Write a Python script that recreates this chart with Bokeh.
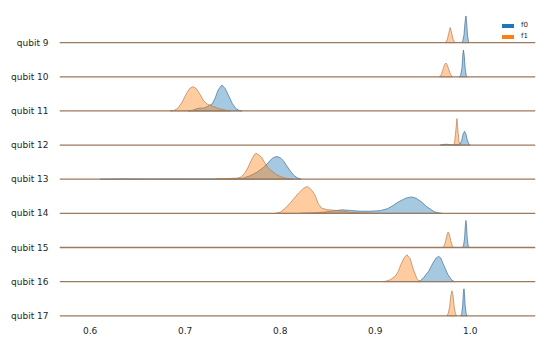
from bokeh.plotting import figure
from bokeh.models import (Range1d, FixedTicker, Span, Legend, LegendItem,
                          NumeralTickFormatter)
from bokeh.embed import file_html
from bokeh.resources import INLINE

# ---------------- data ----------------
categories = ["qubit 9", "qubit 10", "qubit 11", "qubit 12", "qubit 13",
              "qubit 14", "qubit 15", "qubit 16", "qubit 17"]
series_names = ["f0", "f1"]
x_ticks = [0.6, 0.7, 0.8, 0.9, 1.0]

# relative density (row maximum ~ 1)
q9_f0_x = [0.9905, 0.9921, 0.9935, 0.9945, 0.9955, 0.9963, 0.9972, 0.9982, 0.9989]
q9_f0_d = [0, 0.05, 0.30, 0.75, 0.99, 0.70, 0.25, 0.03, 0]
q9_f1_x = [0.9737, 0.9758, 0.9774, 0.9789, 0.9805, 0.9821, 0.9842]
q9_f1_d = [0, 0.10, 0.35, 0.56, 0.35, 0.10, 0]

q10_f0_x = [0.9884, 0.9900, 0.9914, 0.9922, 0.9929, 0.9938, 0.9947, 0.9958, 0.9968]
q10_f0_d = [0, 0.06, 0.35, 0.80, 0.99, 0.75, 0.30, 0.05, 0]
q10_f1_x = [0.9674, 0.9695, 0.9716, 0.9732, 0.9744, 0.9758, 0.9774, 0.9795, 0.9816]
q10_f1_d = [0, 0.08, 0.30, 0.46, 0.51, 0.44, 0.27, 0.07, 0]

q11_f0_x = [0.7032, 0.7084, 0.7126, 0.7158, 0.7189, 0.7221, 0.7258, 0.7284, 0.7316,
            0.7347, 0.7386, 0.7421, 0.7458, 0.7495, 0.7532, 0.7568, 0.7600]
q11_f0_d = [0, 0.03, 0.09, 0.11, 0.10, 0.14, 0.21, 0.26, 0.48,
            0.78, 0.96, 0.83, 0.56, 0.28, 0.09, 0.02, 0]
q11_f1_x = [0.6842, 0.6884, 0.6926, 0.6968, 0.7011, 0.7047, 0.7081, 0.7116, 0.7153,
            0.7189, 0.7221, 0.7253, 0.7295, 0.7347, 0.7411, 0.7474]
q11_f1_d = [0, 0.02, 0.11, 0.33, 0.63, 0.83, 0.90, 0.83, 0.63,
            0.41, 0.28, 0.22, 0.17, 0.09, 0.04, 0]

q12_f0_x = [0.9684, 0.9716, 0.9747, 0.9779, 0.9811, 0.9863, 0.9895, 0.9911, 0.9926,
            0.9940, 0.9954, 0.9968, 0.9984, 1.0000]
q12_f0_d = [0, 0.02, 0.03, 0.02, 0.01, 0.01, 0.04, 0.18, 0.42,
            0.51, 0.42, 0.20, 0.05, 0]
q12_f1_x = [0.9821, 0.9835, 0.9846, 0.9860, 0.9873, 0.9884, 0.9895]
q12_f1_d = [0, 0.08, 0.45, 0.98, 0.45, 0.08, 0]

q13_f0_x = [0.6105, 0.6211, 0.6368, 0.6474, 0.6632, 0.6789, 0.6947, 0.7158, 0.7368,
            0.7526, 0.7611, 0.7684, 0.7755, 0.7824, 0.7863, 0.7895, 0.7926, 0.7965,
            0.8000, 0.8035, 0.8068, 0.8105, 0.8142, 0.8179, 0.8221]
q13_f0_d = [0, 0.004, 0.012, 0.006, 0.003, 0.006, 0.006, 0.004, 0.01,
            0.015, 0.04, 0.13, 0.26, 0.44, 0.57, 0.70, 0.80, 0.84,
            0.80, 0.68, 0.50, 0.31, 0.15, 0.05, 0]
q13_f1_x = [0.7316, 0.7389, 0.7474, 0.7547, 0.7589, 0.7632, 0.7663, 0.7695, 0.7726,
            0.7747, 0.7774, 0.7807, 0.7832, 0.7860, 0.7884, 0.7913, 0.7958, 0.8000,
            0.8042, 0.8095, 0.8137]
q13_f1_d = [0, 0.02, 0.03, 0.04, 0.08, 0.25, 0.45, 0.70, 0.90,
            0.96, 0.90, 0.80, 0.64, 0.49, 0.38, 0.30, 0.18, 0.10,
            0.05, 0.01, 0]

q14_f0_x = [0.8211, 0.8368, 0.8474, 0.8579, 0.8653, 0.8737, 0.8842, 0.8947, 0.9053,
            0.9126, 0.9189, 0.9242, 0.9281, 0.9326, 0.9386, 0.9432, 0.9492, 0.9537,
            0.9579, 0.9621, 0.9663, 0.9705]
q14_f0_d = [0, 0.02, 0.05, 0.10, 0.13, 0.11, 0.08, 0.08, 0.10,
            0.17, 0.29, 0.42, 0.49, 0.57, 0.61, 0.56, 0.41, 0.26,
            0.16, 0.06, 0.02, 0]
q14_f1_x = [0.7947, 0.8000, 0.8053, 0.8105, 0.8140, 0.8193, 0.8245, 0.8287, 0.8333,
            0.8368, 0.8403, 0.8439, 0.8492, 0.8561, 0.8632, 0.8737, 0.8874, 0.8968]
q14_f1_d = [0, 0.04, 0.19, 0.38, 0.53, 0.75, 0.93, 1.00, 0.86,
            0.66, 0.34, 0.19, 0.14, 0.12, 0.09, 0.04, 0.01, 0]

q15_f0_x = [0.9916, 0.9929, 0.9941, 0.9948, 0.9955, 0.9961, 0.9968, 0.9979, 0.9989]
q15_f0_d = [0, 0.06, 0.35, 0.80, 1.00, 0.80, 0.35, 0.06, 0]
q15_f1_x = [0.9711, 0.9726, 0.9742, 0.9758, 0.9768, 0.9779, 0.9795, 0.9811, 0.9826]
q15_f1_d = [0, 0.06, 0.25, 0.50, 0.57, 0.50, 0.25, 0.06, 0]

q16_f0_x = [0.9442, 0.9474, 0.9508, 0.9561, 0.9614, 0.9642, 0.9667, 0.9689, 0.9719,
            0.9765, 0.9807, 0.9837]
q16_f0_d = [0, 0.03, 0.14, 0.38, 0.73, 0.88, 0.94, 0.88, 0.63, 0.26, 0.05, 0]
q16_f1_x = [0.9074, 0.9116, 0.9158, 0.9211, 0.9242, 0.9263, 0.9298, 0.9333, 0.9368,
            0.9403, 0.9439, 0.9463, 0.9484]
q16_f1_d = [0, 0.02, 0.07, 0.20, 0.38, 0.57, 0.85, 1.00, 0.85, 0.44, 0.11, 0.02, 0]

q17_f0_x = [0.9898, 0.9911, 0.9921, 0.9927, 0.9934, 0.9940, 0.9946, 0.9957, 0.9968]
q17_f0_d = [0, 0.08, 0.40, 0.82, 1.00, 0.82, 0.40, 0.08, 0]
q17_f1_x = [0.9753, 0.9768, 0.9784, 0.9797, 0.9807, 0.9818, 0.9831, 0.9844, 0.9858]
q17_f1_d = [0, 0.08, 0.35, 0.78, 0.93, 0.78, 0.35, 0.08, 0]

f0_curves = [(q9_f0_x, q9_f0_d), (q10_f0_x, q10_f0_d), (q11_f0_x, q11_f0_d),
             (q12_f0_x, q12_f0_d), (q13_f0_x, q13_f0_d), (q14_f0_x, q14_f0_d),
             (q15_f0_x, q15_f0_d), (q16_f0_x, q16_f0_d), (q17_f0_x, q17_f0_d)]
f1_curves = [(q9_f1_x, q9_f1_d), (q10_f1_x, q10_f1_d), (q11_f1_x, q11_f1_d),
             (q12_f1_x, q12_f1_d), (q13_f1_x, q13_f1_d), (q14_f1_x, q14_f1_d),
             (q15_f1_x, q15_f1_d), (q16_f1_x, q16_f1_d), (q17_f1_x, q17_f1_d)]

# ---------------- styling ----------------
C0 = "#1f77b4"
C1 = "#ff7f0e"
SCALE = 0.79   # ridge height (row units) of relative density 1
FONT = "DejaVu Sans"
TXT = "#262626"

n = len(categories)
p = figure(width=550, height=342, output_backend="svg", toolbar_location=None,
           x_range=Range1d(0.5677, 1.0687), y_range=Range1d(-0.05, n),
           min_border_left=59, min_border_right=15, min_border_top=8,
           min_border_bottom=25)
p.outline_line_color = None
p.grid.grid_line_color = None
p.background_fill_color = "white"

for i in range(n):
    base = n - 1 - i
    x0, d0 = f0_curves[i]
    x1, d1 = f1_curves[i]
    p.patch(x0, [base + v * SCALE for v in d0], fill_color=C0, fill_alpha=0.4,
            line_color="#3d6a8e", line_width=0.8, line_alpha=0.85)
    p.patch(x1, [base + v * SCALE for v in d1], fill_color=C1, fill_alpha=0.4,
            line_color="#b07a4e", line_width=0.8, line_alpha=0.85)
    p.add_layout(Span(location=base, dimension="width", line_color="#9c7a5e",
                      line_width=1.3))

# axes
p.xaxis.ticker = FixedTicker(ticks=x_ticks)
p.xaxis.formatter = NumeralTickFormatter(format="0.0")
p.xaxis.axis_line_color = None
p.xaxis.major_tick_line_color = None
p.xaxis.minor_tick_line_color = None
p.xaxis.major_label_standoff = 3
p.xaxis.major_label_text_font = FONT
p.xaxis.major_label_text_font_size = "9px"
p.xaxis.major_label_text_color = TXT

p.yaxis.ticker = FixedTicker(ticks=list(range(n)))
p.yaxis.major_label_overrides = {n - 1 - i: c for i, c in enumerate(categories)}
p.yaxis.axis_line_color = None
p.yaxis.major_tick_line_color = None
p.yaxis.minor_tick_line_color = None
p.yaxis.major_label_standoff = 5
p.yaxis.major_label_text_font = FONT
p.yaxis.major_label_text_font_size = "9px"
p.yaxis.major_label_text_color = TXT

# legend with solid swatches (renderers hold no visible data)
nan = float("nan")
r0 = p.quad(left=[nan], right=[nan], top=[nan], bottom=[nan],
            fill_color=C0, line_alpha=0)
r1 = p.quad(left=[nan], right=[nan], top=[nan], bottom=[nan],
            fill_color=C1, line_alpha=0)
legend = Legend(items=[LegendItem(label=series_names[0], renderers=[r0]),
                       LegendItem(label=series_names[1], renderers=[r1])],
                location=(441, 277), glyph_width=15, glyph_height=5,
                label_height=8, spacing=3, padding=0, margin=0,
                label_standoff=6, border_line_color=None,
                background_fill_alpha=0,
                label_text_font=FONT, label_text_font_size="7px",
                label_text_color=TXT)
p.add_layout(legend)

open("out.html", "w").write(file_html(p, INLINE))
